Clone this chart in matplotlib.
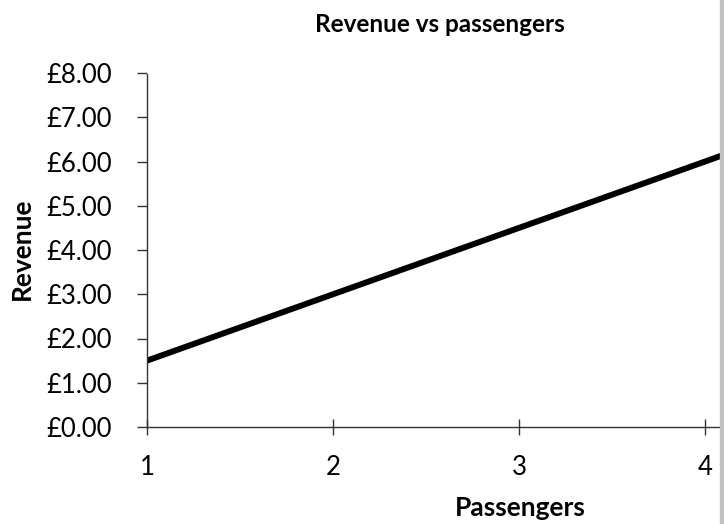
import matplotlib.pyplot as plt
from matplotlib.patches import Rectangle
from matplotlib.ticker import FuncFormatter

plt.rcParams['font.family'] = ['Lato', 'DejaVu Sans']

# данные
passengers = [1, 2, 3, 4, 5]
revenue = [1.5, 3.0, 4.5, 6.0, 7.5]
x_ticks = [1, 2, 3, 4]
y_ticks = [0, 1, 2, 3, 4, 5, 6, 7, 8]

fig = plt.figure(figsize=(7.24, 5.24), dpi=100)
ax = fig.add_axes([147 / 724, 97 / 524, 573 / 724, 354 / 524])

ax.plot(passengers, revenue, color='black', linewidth=4.3, solid_capstyle='butt')

ax.set_xlim(1, 4.08)
ax.set_ylim(0, 8)
ax.set_xticks(x_ticks)
ax.set_yticks(y_ticks)
ax.yaxis.set_major_formatter(FuncFormatter(lambda v, p: f'£{v:.2f}'))

for side in ['top', 'right']:
    ax.spines[side].set_visible(False)
for side in ['left', 'bottom']:
    ax.spines[side].set_linestyle((0, (1.5, 1)))
    ax.spines[side].set_linewidth(1.0)
    ax.spines[side].set_color('#333333')

ax.tick_params(axis='both', width=1, color='#333333', labelsize=18.5)
ax.tick_params(axis='y', direction='out', length=7, pad=18)
ax.tick_params(axis='x', direction='inout', length=12, pad=14)

fig.text(440 / 724, 1 - 25 / 524, 'Revenue vs passengers', ha='center', va='center',
         fontsize=17.5, fontweight='bold')
fig.text(520 / 724, 1 - 508 / 524, 'Passengers', ha='center', va='center',
         fontsize=19, fontweight='bold')
fig.text(22 / 724, 1 - 249 / 524, 'Revenue', ha='center', va='center', rotation=90,
         fontsize=19, fontweight='bold')

# серая полоса справа
fig.patches.append(Rectangle((720 / 724, 0), 4 / 724, 1, transform=fig.transFigure,
                             color='#c0c0c0', zorder=5))

fig.savefig('out.png', dpi=100)
